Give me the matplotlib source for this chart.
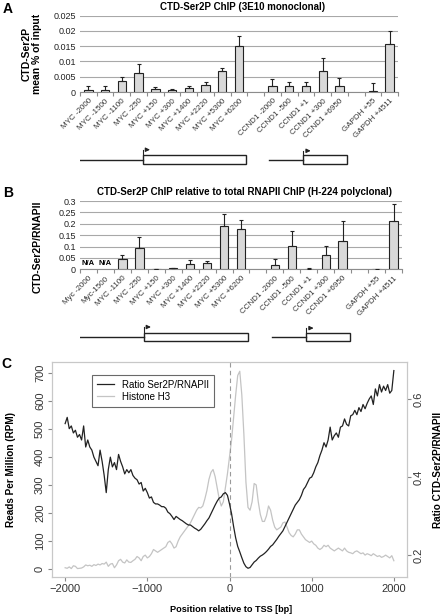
import numpy as np
import matplotlib
matplotlib.use("Agg")
import matplotlib.pyplot as plt
from matplotlib.lines import Line2D

plt.rcParams['font.family'] = ['Liberation Sans', 'DejaVu Sans']

# ---- panel A / B data ----
labels_a = ["MYC -2000", "MYC -1500", "MYC -1100", "MYC -250", "MYC +150", "MYC +300",
            "MYC +1400", "MYC +2220", "MYC +5300", "MYC +6200",
            "CCND1 -2000", "CCND1 -500", "CCND1 +1", "CCND1 +300", "CCND1 +6950",
            "GAPDH +55", "GAPDH +4511"]
values_a = [0.0007, 0.0007, 0.0036, 0.0061, 0.0009, 0.0007, 0.0012, 0.0023, 0.0068, 0.0152,
            0.0019, 0.0021, 0.0019, 0.0068, 0.0021, 0.0002, 0.0158]
err_a = [0.0014, 0.0013, 0.0014, 0.0030, 0.0006, 0.0003, 0.0008, 0.0009, 0.0010, 0.0032,
         0.0025, 0.0012, 0.0013, 0.0044, 0.0026, 0.0026, 0.0042]

labels_b = ["Myc -2000", "Myc-1500", "MYC -1100", "MYC -250", "MYC +150", "MYC +300",
            "MYC +1400", "MYC +2220", "MYC +5300", "MYC +6200",
            "CCND1 -2000", "CCND1 -500", "CCND1 +1", "CCND1 +300", "CCND1 +6950",
            "GAPDH +55", "GAPDH +4511"]
values_b = [np.nan, np.nan, 0.044, 0.092, 0.002, 0.004, 0.025, 0.026, 0.190, 0.176,
            0.021, 0.104, 0.003, 0.061, 0.125, -0.002, 0.212]
err_b = [0, 0, 0.018, 0.048, 0.001, 0.001, 0.017, 0.009, 0.055, 0.040,
         0.026, 0.064, 0.001, 0.042, 0.088, 0.003, 0.073]

group_sizes = [10, 5, 2]

# ---- panel C data ----
position = np.arange(-2000, 2001, 25)
histone_h3 = [5, 3, 8, 2, 12, 10, 2, 3, 4, 8, 15, 12, 14, 10, 16, 13, 18, 15, 20, 18,
              25, 10, 18, 20, 5, 15, 30, 35, 25, 22, 33, 25, 24, 30, 35, 45, 40, 30, 45, 50,
              40, 45, 55, 70, 65, 60, 65, 70, 75, 80, 95, 100, 90, 75, 80, 100, 115, 125, 135, 145,
              155, 165, 180, 195, 210, 220, 218, 225, 250, 280, 320, 345, 355, 330, 290, 250, 225, 240, 290, 340,
              400, 460, 540, 620, 690, 705, 620, 480, 310, 220, 210, 240, 305, 300, 240, 195, 170, 170, 190, 225,
              210, 175, 150, 140, 145, 150, 165, 168, 150, 130, 120, 115, 125, 140, 140, 125, 115, 105, 100, 95,
              100, 90, 85, 75, 70, 75, 85, 80, 85, 75, 70, 65, 70, 75, 70, 65, 75, 65, 60, 58,
              55, 62, 65, 60, 55, 58, 50, 55, 52, 48, 55, 50, 45, 48, 42, 45, 50, 45, 40, 48, 30]
ratio_ser2p = [0.537, 0.553, 0.524, 0.531, 0.513, 0.520, 0.502, 0.509, 0.495, 0.531,
               0.477, 0.495, 0.477, 0.469, 0.451, 0.440, 0.429, 0.469, 0.440, 0.404,
               0.360, 0.419, 0.451, 0.426, 0.437, 0.419, 0.458, 0.440, 0.426, 0.408,
               0.419, 0.411, 0.419, 0.404, 0.397, 0.393, 0.382, 0.386, 0.364, 0.371,
               0.360, 0.346, 0.349, 0.335, 0.331, 0.331, 0.328, 0.324, 0.324, 0.320,
               0.310, 0.306, 0.299, 0.291, 0.299, 0.295, 0.291, 0.288, 0.284, 0.280,
               0.277, 0.277, 0.273, 0.269, 0.266, 0.262, 0.266, 0.273, 0.280, 0.288,
               0.295, 0.306, 0.317, 0.328, 0.338, 0.346, 0.349, 0.357, 0.360, 0.353,
               0.331, 0.306, 0.273, 0.244, 0.222, 0.208, 0.193, 0.179, 0.170, 0.166,
               0.168, 0.175, 0.182, 0.186, 0.192, 0.197, 0.200, 0.204, 0.209, 0.215,
               0.222, 0.226, 0.233, 0.240, 0.248, 0.255, 0.262, 0.273, 0.284, 0.295,
               0.306, 0.317, 0.328, 0.335, 0.342, 0.353, 0.368, 0.375, 0.386, 0.397,
               0.400, 0.411, 0.426, 0.437, 0.455, 0.469, 0.488, 0.477, 0.495, 0.528,
               0.495, 0.506, 0.513, 0.502, 0.528, 0.531, 0.549, 0.535, 0.531, 0.557,
               0.560, 0.571, 0.560, 0.578, 0.568, 0.586, 0.575, 0.589, 0.600, 0.608,
               0.586, 0.626, 0.608, 0.637, 0.618, 0.633, 0.622, 0.637, 0.615, 0.622, 0.673]

# slot positions with a blank slot between gene groups
slots = []
s = 0
for g in group_sizes:
    slots += list(range(s, s + g))
    s += g + 1
slots = np.array(slots)
nslots = s - 1

W, H = 447, 615
fig = plt.figure(figsize=(W / 100, H / 100), dpi=100)


def px_axes(left, top, right, bottom):
    return fig.add_axes([left / W, 1 - bottom / H, (right - left) / W, (bottom - top) / H])


def bar_panel(ax, labels, values, errs, ymax, step):
    vals = np.array(values, dtype=float)
    ok = ~np.isnan(vals)
    ax.bar(slots[ok], vals[ok], width=0.5, color='#d9d9d9', edgecolor='#222222',
           linewidth=0.8, zorder=3)
    ax.errorbar(slots[ok], vals[ok], yerr=[np.zeros(ok.sum()), np.array(errs)[ok]],
                fmt='none', ecolor='#222222', elinewidth=0.8, capsize=1.6, capthick=0.8, zorder=4)
    ax.set_xlim(-0.5, nslots - 0.5)
    ax.set_ylim(0, ymax)
    ax.set_yticks(np.arange(0, ymax + step / 2, step))
    ax.yaxis.set_major_formatter(matplotlib.ticker.FormatStrFormatter('%g'))
    ax.grid(axis='y', color='#a8a8a8', linewidth=0.8, zorder=0)
    for sp in ['top', 'right', 'left']:
        ax.spines[sp].set_visible(False)
    ax.spines['bottom'].set_color('#8c8c8c')
    ax.spines['bottom'].set_linewidth(0.8)
    ax.tick_params(axis='y', length=0, labelsize=6.5, pad=3, labelcolor='#222222')
    ax.set_xticks(slots)
    ax.set_xticklabels(labels, rotation=45, ha='right', va='top', rotation_mode='anchor',
                       fontsize=5.8, color='#333333')
    ax.tick_params(axis='x', which='major', length=0, pad=4)
    ax.set_xticks(np.arange(-0.5, nslots, 1.0), minor=True)
    ax.tick_params(axis='x', which='minor', length=3, color='#8c8c8c', width=0.8)
    return vals


def gene_diagram(ax):
    ax.set_xlim(-0.5, nslots - 0.5)
    ax.set_ylim(0, 1)
    ax.axis('off')
    # MYC
    ax.plot([-0.5, 3.25], [0.4, 0.4], color='#222222', lw=1.0)
    ax.add_patch(plt.Rectangle((3.25, 0.2), 6.15, 0.4, fill=False, ec='#222222', lw=1.0))
    ax.annotate('', xy=(3.85, 0.85), xytext=(3.25, 0.85),
                arrowprops=dict(arrowstyle='-|>,head_length=0.25,head_width=0.12', color='#222222', lw=0.8))
    ax.plot([3.25, 3.25], [0.6, 0.85], color='#222222', lw=0.8)
    # CCND1
    ax.plot([10.8, 12.85], [0.4, 0.4], color='#222222', lw=1.0)
    ax.add_patch(plt.Rectangle((12.85, 0.2), 2.6, 0.4, fill=False, ec='#222222', lw=1.0))
    ax.annotate('', xy=(13.45, 0.8), xytext=(12.85, 0.8),
                arrowprops=dict(arrowstyle='-|>,head_length=0.25,head_width=0.12', color='#222222', lw=0.8))
    ax.plot([12.85, 12.85], [0.6, 0.8], color='#222222', lw=0.8)


# ---- Panel A ----
axA = px_axes(80, 15.7, 398, 92)
bar_panel(axA, labels_a, values_a, err_a, 0.025, 0.005)
axA.text(0.51, 1.11, 'CTD-Ser2P ChIP (3E10 monoclonal)', transform=axA.transAxes,
         ha='center', va='center', fontsize=7, fontweight='bold')
axA.set_ylabel('CTD-Ser2P\nmean % of input', fontsize=7.5, fontweight='bold', linespacing=1.0)
axA.yaxis.set_label_coords(-0.12, 0.5)
fig.text(8 / W, 1 - 9 / H, 'A', fontsize=10, fontweight='bold', ha='center', va='center')

dA = px_axes(80, 146.4, 398, 168.4)
gene_diagram(dA)

# ---- Panel B ----
axB = px_axes(80, 201, 402, 269.3)
vb = bar_panel(axB, labels_b, values_b, err_b, 0.3, 0.05)
for x, v in zip(slots, vb):
    if np.isnan(v):
        axB.text(x, 0.025, 'N/A', ha='center', va='center', fontsize=5.5, fontweight='bold')
axB.text(0.512, 1.13, 'CTD-Ser2P ChIP relative to total RNAPII ChIP (H-224 polyclonal)',
         transform=axB.transAxes, ha='center', va='center', fontsize=7, fontweight='bold')
axB.set_ylabel('CTD-Ser2P/RNAPII', fontsize=7.5, fontweight='bold')
axB.yaxis.set_label_coords(-0.115, 0.33)
fig.text(8 / W, 1 - 193 / H, 'B', fontsize=10, fontweight='bold', ha='center', va='center')

dB = px_axes(80, 323.7, 402, 345.7)
gene_diagram(dB)

# ---- Panel C ----
axC = px_axes(52, 362, 407, 577)
axC.plot(position, histone_h3, color='#c4c4c4', lw=0.9)
axC.axvline(0, color='#9a9a9a', lw=0.8, ls=(0, (4, 3)))
axC.set_xlim(-2160, 2160)
axC.set_ylim(-28, 738)
axC.set_xticks([-2000, -1000, 0, 1000, 2000])
axC.set_xticklabels(['\u22122000', '\u22121000', '0', '1000', '2000'])
axC.set_yticks(np.arange(0, 701, 100))
for lab in axC.get_yticklabels():
    lab.set_rotation(90)
    lab.set_va('center')
axC2 = axC.twinx()
axC2.plot(position, ratio_ser2p, color='#222222', lw=0.9)
axC2.set_ylim(0.1436, 0.695)
axC2.set_yticks([0.2, 0.4, 0.6])
for lab in axC2.get_yticklabels():
    lab.set_rotation(90)
    lab.set_va('center')
for a in (axC, axC2):
    for sp in a.spines.values():
        sp.set_color('#c8c8c8')
        sp.set_linewidth(0.8)
    a.tick_params(labelsize=8, length=3, color='#888888', labelcolor='#333333', pad=2)

axC.set_xlabel('Position relative to TSS [bp]', fontsize=6.6, fontweight='bold')
axC.xaxis.set_label_coords(0.504, -0.128)
axC.set_ylabel('Reads Per Million (RPM)', fontsize=7.2, fontweight='bold')
axC.yaxis.set_label_coords(-0.1, 0.5)
axC2.set_ylabel('Ratio CTD-Ser2P/RNAPII', fontsize=7.2, fontweight='bold')
axC2.yaxis.set_label_coords(1.072, 0.5)

handles = [Line2D([], [], color='#222222', lw=0.9), Line2D([], [], color='#c4c4c4', lw=0.9)]
leg = axC2.legend(handles, ['Ratio Ser2P/RNAPII', 'Histone H3'], loc='upper left',
                  bbox_to_anchor=(0.113, 0.94), borderaxespad=0, fontsize=7, fancybox=False,
                  handlelength=1.8, handletextpad=0.8, borderpad=0.5, labelspacing=0.2)
leg.get_frame().set_edgecolor('#444444')
leg.get_frame().set_linewidth(0.8)
fig.text(6 / W, 1 - 364 / H, 'C', fontsize=10, fontweight='bold', ha='center', va='center')

fig.savefig('out.png', dpi=100)
